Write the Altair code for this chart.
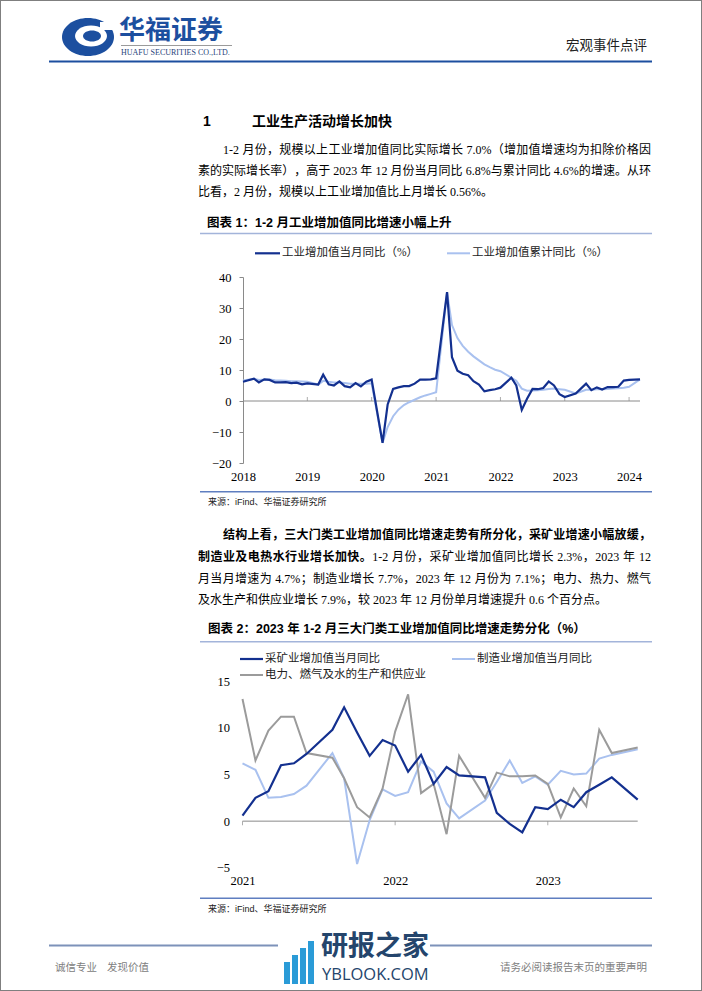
import altair as alt
import pandas as pd

W, H = 702, 991

# ---------------- data ----------------
def month_list(pairs):
    return [f"{y}-{m:02d}-01T00:00:00" for y, m in pairs]

# Chart 1: monthly points (Jan is merged into Feb in the source data)
DATES1 = month_list([(2017, 12)] + [(y, m) for y in range(2018, 2024) for m in range(2, 13)] + [(2024, 2)])
IP_MONTHLY = [6.2,
              7.2, 6.0, 7.0, 6.8, 6.0, 6.0, 6.1, 5.8, 5.9, 5.4, 5.7,
              5.3, 8.5, 5.4, 5.0, 6.3, 4.8, 4.4, 5.8, 4.7, 6.2, 6.9,
              -13.5, -1.1, 3.9, 4.4, 4.8, 4.8, 5.6, 6.9, 6.9, 7.0, 7.3,
              35.1, 14.1, 9.8, 8.8, 8.3, 6.4, 5.3, 3.1, 3.5, 3.8, 4.3,
              7.5, 5.0, -2.9, 0.7, 3.9, 3.8, 4.2, 6.3, 5.0, 2.2, 1.3,
              2.4, 3.9, 5.6, 3.5, 4.4, 3.7, 4.5, 4.5, 4.6, 6.6, 6.8,
              7.0]
IP_CUM = [6.6,
          7.2, 6.8, 6.9, 6.9, 6.7, 6.6, 6.5, 6.4, 6.4, 6.3, 6.2,
          5.3, 6.5, 6.2, 6.0, 6.0, 5.8, 5.6, 5.6, 5.6, 5.6, 5.7,
          -13.5, -8.4, -4.9, -2.8, -1.3, -0.4, 0.4, 1.2, 1.8, 2.3, 2.8,
          35.1, 24.5, 20.3, 17.8, 15.9, 14.4, 13.1, 11.8, 10.9, 10.1, 9.6,
          7.5, 6.5, 4.0, 3.3, 3.4, 3.5, 3.6, 3.9, 4.0, 3.8, 3.6,
          2.4, 3.0, 3.6, 3.6, 3.8, 3.8, 3.9, 4.0, 4.1, 4.3, 4.6,
          7.0]

# Chart 2
DATES2 = month_list([(2021, m) for m in range(7, 13)] + [(y, m) for y in (2022, 2023) for m in range(2, 13)] + [(2024, 2)])
MINING = [0.6, 2.5, 3.2, 6.0, 6.2, 7.2,
          9.8, 12.2, 9.5, 7.0, 8.7, 8.1, 5.3, 7.1, 4.0, 5.8, 4.9,
          4.7, 0.9, -0.3, -1.2, 1.5, 1.3, 2.3, 1.5, 3.1, 3.9, 4.7,
          2.3]
MANUF = [6.2, 5.5, 2.5, 2.6, 2.9, 3.8,
         7.3, 4.6, -4.6, 0.1, 3.4, 2.7, 3.1, 6.4, 5.3, 1.9, 0.3,
         2.2, 4.2, 6.5, 4.1, 4.8, 3.9, 5.4, 5.0, 5.1, 6.7, 7.1,
         7.7]
UTIL = [13.1, 6.5, 9.7, 11.2, 11.2, 7.3,
        6.8, 4.6, 1.5, 0.4, 3.5, 9.6, 13.6, 3.0, 4.0, -1.4, 7.0,
        2.5, 5.2, 4.8, 4.8, 4.9, 4.0, 0.4, 3.5, 1.6, 9.8, 7.3,
        7.9]

SERIES1 = ["工业增加值当月同比（%）", "工业增加值累计同比（%）"]
SERIES2 = ["采矿业增加值当月同比", "制造业增加值当月同比", "电力、燃气及水的生产和供应业"]
Y_TICKS1 = [-20, -10, 0, 10, 20, 30, 40]
Y_TICKS2 = [-5, 0, 5, 10, 15]
X_TICK_MONTHS1 = [(y, 12) for y in range(2017, 2024)]   # labelled with following year
X_TICK_MONTHS2 = [(y, 7) for y in range(2021, 2024)]

# ---------------- styles ----------------
DARK = "#13308f"
LIGHT = "#a9c1ef"
GRAY = "#9b9b9b"
AXIS_C = "#8a8a8a"
BLUE = "#1c4f9f"
SONG = "Liberation Serif, Noto Sans CJK SC"
HEI = "Liberation Sans, Noto Sans CJK SC"
NUM = "Liberation Serif"

DUMMY = alt.Data(values=[{"k": 1}])


def dt(y, m):
    return alt.DateTime(year=y, month=m, date=1)


def text(s, x, y, size=12, weight="normal", color="#000000", align="left", font=SONG):
    return alt.Chart(DUMMY).mark_text(
        text=s, fontSize=size, fontWeight=weight, color=color, align=align,
        baseline="middle", font=font
    ).encode(x=alt.value(x), y=alt.value(y))


def hline(x1, x2, y, color, width=1.0):
    return alt.Chart(DUMMY).mark_rule(color=color, strokeWidth=width).encode(
        x=alt.value(x1), x2=alt.value(x2), y=alt.value(y))


def ellipse(cx, cy, rx, ry, color):
    k = ry / rx
    path = f"M-1,0 A1,{k} 0 1,1 1,0 A1,{k} 0 1,1 -1,0 Z"
    return alt.Chart(DUMMY).mark_point(
        shape=path, size=(2 * rx) ** 2, filled=True, fill=color, opacity=1, strokeWidth=0
    ).encode(x=alt.value(cx), y=alt.value(cy))


def rect(x1, x2, y1, y2, color):
    return alt.Chart(DUMMY).mark_rect(color=color).encode(
        x=alt.value(x1), x2=alt.value(x2), y=alt.value(y1), y2=alt.value(y2))


# --- justified paragraph lines (CJK text spread over the full column width) ---
LATIN_W = {".": 0.25, ",": 0.25, "%": 0.833, "-": 0.333, " ": 0.25}


def is_wide(c):
    return ord(c) >= 0x2E80


def char_w(c, size):
    return size if is_wide(c) else LATIN_W.get(c, 0.5) * size


def justified(segments, x0, x1, y, size=12):
    """segments: list of (text, bold). Returns text layers spread between x0 and x1."""
    tokens = []
    for s, bold in segments:
        buf = ""
        for c in s:
            if is_wide(c) or c == " ":
                if buf:
                    tokens.append((buf, bold))
                    buf = ""
                tokens.append((c, bold))
            else:
                buf += c
        if buf:
            tokens.append((buf, bold))
    widths = [sum(char_w(c, size) for c in t) for t, _ in tokens]
    natural = sum(widths)
    extra = (x1 - x0 - natural) / max(len(tokens) - 1, 1)
    rows = {True: [], False: []}
    pos = x0
    for (t, bold), w in zip(tokens, widths):
        if t != " ":
            rows[bold].append({"t": t, "x": pos})
        pos += w + extra
    layers = []
    for bold, r in rows.items():
        if not r:
            continue
        layers.append(
            alt.Chart(alt.Data(values=r)).mark_text(
                align="left", baseline="middle", fontSize=size,
                fontWeight="bold" if bold else "normal", font=HEI if bold else SONG, color="#000000"
            ).encode(x=alt.X("x:Q", scale=None, axis=None), y=alt.value(y), text="t:N")
        )
    return layers


# ---------------- chart 1 ----------------
X1_SCALE = alt.Scale(domain=[dt(2017, 12), dt(2024, 2)], range=[243, 640])
Y1_SCALE = alt.Scale(domain=[-20, 40], range=[463, 277], nice=False, zero=False)
X1_AXIS = alt.Axis(orient="bottom", offset=463 - H, values=[dt(y, m) for y, m in X_TICK_MONTHS1],
                   labelExpr="timeFormat(timeOffset('month', datum.value, 1), '%Y')",
                   domain=False, ticks=False, grid=False, labelPadding=7, labelFont=NUM,
                   labelFontSize=12.5, labelColor="#000000", labelFlush=False, labelOverlap=False,
                   title=None)
Y1_AXIS = alt.Axis(orient="left", offset=-243, values=Y_TICKS1, domain=True, domainColor=AXIS_C,
                   domainWidth=1, ticks=True, tickSize=4, tickColor=AXIS_C, grid=False,
                   labelPadding=8, labelFont=NUM, labelFontSize=12.5, labelColor="#000000",
                   title=None)

df1 = pd.DataFrame({"date": DATES1, "monthly": IP_MONTHLY, "cum": IP_CUM})
X1 = alt.X("date:T", scale=X1_SCALE, axis=X1_AXIS)

zero1 = alt.Chart(pd.DataFrame({"date": [DATES1[0]], "date_end": [DATES1[-1]], "monthly": [0]})).mark_rule(
    color=AXIS_C, strokeWidth=1).encode(
    x=X1, x2="date_end:T", y=alt.Y("monthly:Q", scale=Y1_SCALE, axis=Y1_AXIS))
ticks1 = alt.Chart(pd.DataFrame({"date": month_list(X_TICK_MONTHS1[1:]), "monthly": 0})).mark_tick(
    orient="vertical", size=4, thickness=1, color=AXIS_C, yOffset=-2).encode(
    x=X1, y=alt.Y("monthly:Q", scale=Y1_SCALE, axis=Y1_AXIS))
cum1 = alt.Chart(df1).mark_line(color=LIGHT, strokeWidth=2).encode(
    x=X1, y=alt.Y("cum:Q", scale=Y1_SCALE, axis=Y1_AXIS))
mon1 = alt.Chart(df1).mark_line(color=DARK, strokeWidth=2.2).encode(
    x=X1, y=alt.Y("monthly:Q", scale=Y1_SCALE, axis=Y1_AXIS))
chart1 = alt.layer(zero1, ticks1, cum1, mon1)

# ---------------- chart 2 ----------------
X2_SCALE = alt.Scale(domain=[dt(2021, 7), dt(2024, 2)], range=[242.5, 637.7])
Y2_SCALE = alt.Scale(domain=[-5, 15], range=[867.8, 681.2], nice=False, zero=False)
X2_AXIS = alt.Axis(orient="bottom", offset=867.8 - H, values=[dt(y, m) for y, m in X_TICK_MONTHS2],
                   format="%Y", domain=False, ticks=False, grid=False, labelPadding=7, labelFont=NUM,
                   labelFontSize=12.5, labelColor="#000000", labelFlush=False, labelOverlap=False,
                   title=None)
Y2_AXIS = alt.Axis(orient="left", offset=-242.5, values=Y_TICKS2, domain=False, ticks=False,
                   grid=False, labelPadding=13, labelFont=NUM, labelFontSize=12.5,
                   labelColor="#000000", title=None)

df2 = pd.DataFrame({"date": DATES2, "mining": MINING, "manuf": MANUF, "util": UTIL})
X2 = alt.X("date:T", scale=X2_SCALE, axis=X2_AXIS)

zero2 = alt.Chart(pd.DataFrame({"date": [DATES2[0]], "date_end": [DATES2[-1]], "mining": [0]})).mark_rule(
    color=AXIS_C, strokeWidth=1).encode(
    x=X2, x2="date_end:T", y=alt.Y("mining:Q", scale=Y2_SCALE, axis=Y2_AXIS))
ticks2 = alt.Chart(pd.DataFrame({"date": month_list(X_TICK_MONTHS2), "mining": 0})).mark_tick(
    orient="vertical", size=4, thickness=1, color=AXIS_C, yOffset=2).encode(
    x=X2, y=alt.Y("mining:Q", scale=Y2_SCALE, axis=Y2_AXIS))
manuf2 = alt.Chart(df2).mark_line(color=LIGHT, strokeWidth=2).encode(
    x=X2, y=alt.Y("manuf:Q", scale=Y2_SCALE, axis=Y2_AXIS))
util2 = alt.Chart(df2).mark_line(color=GRAY, strokeWidth=2).encode(
    x=X2, y=alt.Y("util:Q", scale=Y2_SCALE, axis=Y2_AXIS))
mining2 = alt.Chart(df2).mark_line(color=DARK, strokeWidth=2.2).encode(
    x=X2, y=alt.Y("mining:Q", scale=Y2_SCALE, axis=Y2_AXIS))
chart2 = alt.layer(zero2, ticks2, manuf2, util2, mining2)

# ---------------- page decoration & text ----------------
FRAME_TOP = "#a3b4da"
FRAME_BOT = "#5f7ec0"

decor = [
    # logo
    ellipse(88, 37, 26, 19, BLUE),
    ellipse(91, 36, 16, 10.5, "#ffffff"),
    ellipse(92, 36, 9, 5.5, BLUE),
    rect(100, 116, 22, 30, "#ffffff"),
    text("华福证券", 119, 30.5, size=26, weight="bold", color=BLUE, font="Noto Sans CJK SC"),
    hline(121, 232, 45.5, "#9a9a9a", 1),
    text("HUAFU SECURITIES CO.,LTD.", 121, 52.5, size=8, color="#1f3f7a", font=NUM),
    text("宏观事件点评", 647, 46, size=13.5, color="#222222", align="right", font=SONG),
    hline(49, 652, 61.5, BLUE, 2),

    # section heading
    text("1", 203, 121.5, size=14, weight="bold", font=HEI),
    text("工业生产活动增长加快", 252, 121.5, size=14, weight="bold", font=HEI),
]

# paragraph 1
decor += justified([("1-2 月份，规模以上工业增加值同比实际增长 7.0%（增加值增速均为扣除价格因", False)],
                   223, 651, 150)
decor += justified([("素的实际增长率），高于 2023 年 12 月份当月同比 6.8%与累计同比 4.6%的增速。从环", False)],
                   198, 651, 171)
decor.append(text("比看，2 月份，规模以上工业增加值比上月增长 0.56%。", 198, 192, size=12))

decor += [
    # chart 1 frame
    text("图表 1：1-2 月工业增加值同比增速小幅上升", 207, 223, size=12.5, weight="bold", font=HEI),
    hline(200, 652, 233.5, FRAME_TOP, 1.5),
    hline(255, 280, 253.3, DARK, 2.2),
    text(SERIES1[0], 282, 253.3, size=11.5, color="#222222"),
    hline(447, 470, 253.3, LIGHT, 2),
    text(SERIES1[1], 472, 253.3, size=11.5, color="#222222"),
    hline(200, 652, 491.8, FRAME_BOT, 1.5),
    text("来源：iFind、华福证券研究所", 208, 502, size=9, color="#222222", font=HEI),
]

# paragraph 2
decor += justified([("结构上看，三大门类工业增加值同比增速走势有所分化，采矿业增速小幅放缓，", True)],
                   223, 651, 535)
decor += justified([("制造业及电热水行业增长加快。", True),
                    ("1-2 月份，采矿业增加值同比增长 2.3%，2023 年 12", False)],
                   198, 651, 557)
decor += justified([("月当月增速为 4.7%；制造业增长 7.7%，2023 年 12 月份为 7.1%；电力、热力、燃气", False)],
                   198, 651, 579)
decor.append(text("及水生产和供应业增长 7.9%，较 2023 年 12 月份单月增速提升 0.6 个百分点。", 198, 600, size=12))

decor += [
    # chart 2 frame
    text("图表 2：2023 年 1-2 月三大门类工业增加值同比增速走势分化（%）", 208, 628.5, size=12.5,
         weight="bold", font=HEI),
    hline(200, 652, 641.7, FRAME_TOP, 1.5),
    hline(240, 263, 659, DARK, 2.2),
    text(SERIES2[0], 265, 659, size=11.5, color="#222222"),
    hline(452, 475, 659, LIGHT, 2),
    text(SERIES2[1], 477, 659, size=11.5, color="#222222"),
    hline(240, 263, 675, GRAY, 2),
    text(SERIES2[2], 265, 675, size=11.5, color="#222222"),
    hline(200, 652, 898.3, FRAME_BOT, 1.5),
    text("来源：iFind、华福证券研究所", 208, 908.5, size=9, color="#222222", font=HEI),

    # footer
    hline(49, 652, 945.5, "#7d92b9", 2),
    text("诚信专业", 55, 968, size=10.5, color="#808080"),
    text("发现价值", 107, 968, size=10.5, color="#808080"),
    text("请务必阅读报告末页的重要声明", 647, 968, size=10.5, color="#808080", align="right"),

    # watermark
    rect(278, 430, 928, 989, "#ffffff"),
    rect(284, 290, 962, 984, "#2a9bd7"),
    rect(292, 298, 955, 984, "#2a9bd7"),
    rect(300, 306, 948, 984, "#2a9bd7"),
    rect(308, 314, 941, 984, "#2a9bd7"),
    text("研报之家", 321, 947, size=27, weight="bold", color="#24456c", font="Noto Sans CJK SC"),
    text("YBLOOK.COM", 322, 975, size=16.5, color="#24456c", font="Open Sans"),
]

page = alt.layer(*decor, chart1, chart2).resolve_scale(
    x="independent", y="independent"
).properties(
    width=W, height=H, padding=0, autosize=alt.AutoSizeParams(type="none")
).configure_view(stroke="#7f7f7f", strokeWidth=2)

page.save("out.html", embed_options={"renderer": "svg", "actions": False})
